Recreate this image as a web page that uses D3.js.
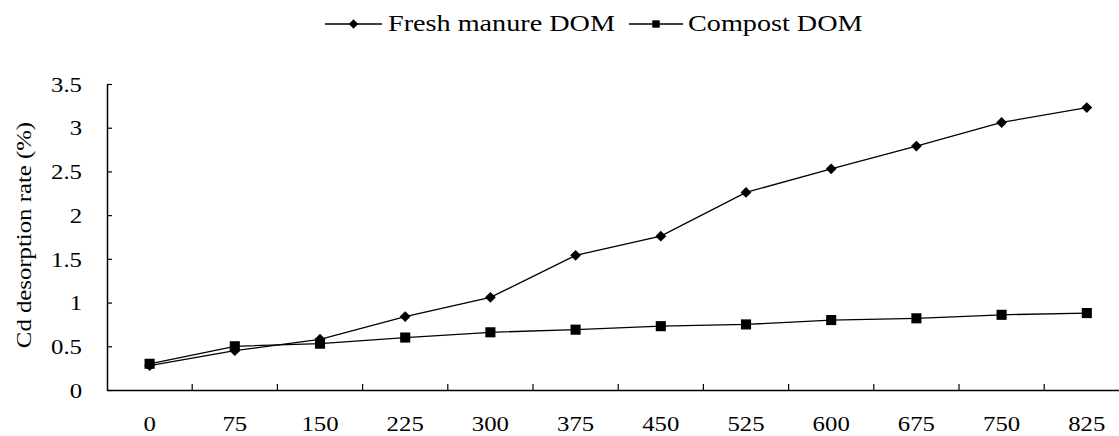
<!DOCTYPE html>
<html>
<head>
<meta charset="utf-8">
<script src="https://cdn.jsdelivr.net/npm/d3@7/dist/d3.min.js"></script>
<style>
  html, body { margin: 0; padding: 0; background: #fff; }
  svg { display: block; }
  text { font-family: "Liberation Serif", "Times New Roman", serif; fill: #000; }
</style>
</head>
<body>
<svg id="chart" width="1119" height="436"></svg>
<script>
// ---- data ----
const categories = ["0", "75", "150", "225", "300", "375", "450", "525", "600", "675", "750", "825"];
const freshManure = [0.28, 0.45, 0.58, 0.84, 1.06, 1.54, 1.76, 2.26, 2.53, 2.79, 3.06, 3.23];
const compost = [0.30, 0.50, 0.53, 0.60, 0.66, 0.69, 0.73, 0.75, 0.80, 0.82, 0.86, 0.88];
const yTicks = [0, 0.5, 1, 1.5, 2, 2.5, 3, 3.5];
const seriesNames = ["Fresh manure DOM", "Compost DOM"];
const yTitle = "Cd desorption rate (%)";

// ---- layout ----
const SX = 1.18;
const svg = d3.select("#chart");
const x = d3.scaleBand().domain(categories).range([107, 1129.4]);
const y = d3.scaleLinear().domain([0, 3.5]).range([390, 84]);

// y axis
const yAxis = svg.append("g").attr("transform", "translate(107,0)")
  .call(d3.axisLeft(y).tickValues(yTicks).tickSizeInner(-5).tickSizeOuter(0).tickPadding(0).tickFormat(d3.format("")));
yAxis.select(".domain").attr("stroke", "#000").attr("stroke-width", 1.5);
yAxis.selectAll(".tick line").attr("stroke", "#000").attr("stroke-width", 1.2);
yAxis.selectAll(".tick text")
  .attr("font-family", "Liberation Serif").attr("font-size", 21)
  .attr("x", -25 / SX).attr("dy", "0.34em")
  .attr("transform", `scale(${SX},1)`);

// x axis (labels at band centres, ticks at band boundaries)
const xAxis = svg.append("g").attr("transform", "translate(0,390)")
  .call(d3.axisBottom(x).tickSizeInner(0).tickSizeOuter(0).tickPadding(26));
xAxis.select(".domain").attr("stroke", "#000").attr("stroke-width", 1.5);
xAxis.selectAll(".tick text")
  .attr("font-family", "Liberation Serif").attr("font-size", 21)
  .attr("dy", "0.71em")
  .attr("transform", `scale(${SX},1)`);
xAxis.selectAll(".bticks").data(categories.slice(1)).enter().append("line")
  .attr("x1", d => x(d)).attr("x2", d => x(d))
  .attr("y1", 0).attr("y2", -6)
  .attr("stroke", "#000").attr("stroke-width", 1.2);

// lines
const line = d3.line().x((d, i) => x(categories[i]) + x.bandwidth() / 2).y(d => y(d));
svg.append("path").datum(freshManure).attr("d", line)
  .attr("fill", "none").attr("stroke", "#000").attr("stroke-width", 1.3);
svg.append("path").datum(compost).attr("d", line)
  .attr("fill", "none").attr("stroke", "#000").attr("stroke-width", 1.3);

const diamond = d3.symbol().type(d3.symbolDiamond2).size(75);
const square = d3.symbol().type(d3.symbolSquare2).size(130);
const legendDiamond = d3.symbol().type(d3.symbolDiamond2).size(55);
const legendSquare = d3.symbol().type(d3.symbolSquare2).size(70);

svg.selectAll(".fm").data(freshManure).enter().append("path")
  .attr("d", diamond)
  .attr("transform", (d, i) => `translate(${x(categories[i]) + x.bandwidth() / 2},${y(d)})`)
  .attr("fill", "#000");
svg.selectAll(".cp").data(compost).enter().append("path")
  .attr("d", square)
  .attr("transform", (d, i) => `translate(${x(categories[i]) + x.bandwidth() / 2},${y(d)})`)
  .attr("fill", "#000");

// y title
svg.append("text")
  .attr("transform", `translate(31,235) rotate(-90) scale(${SX},1)`)
  .attr("text-anchor", "middle")
  .attr("font-size", 21)
  .text(yTitle);

// legend
const legendItems = [
  { name: seriesNames[0], sym: legendDiamond, x0: 325, x1: 382, tx: 388 },
  { name: seriesNames[1], sym: legendSquare, x0: 629, x1: 683, tx: 688 }
];
const lg = svg.append("g");
legendItems.forEach(it => {
  lg.append("line").attr("x1", it.x0).attr("x2", it.x1).attr("y1", 24).attr("y2", 24)
    .attr("stroke", "#000").attr("stroke-width", 1.3);
  lg.append("path").attr("d", it.sym).attr("transform", `translate(${(it.x0 + it.x1) / 2},24)`).attr("fill", "#000");
  lg.append("text").attr("transform", `translate(${it.tx},31) scale(1.2,1)`)
    .attr("font-size", 23.5).text(it.name);
});
</script>
</body>
</html>
